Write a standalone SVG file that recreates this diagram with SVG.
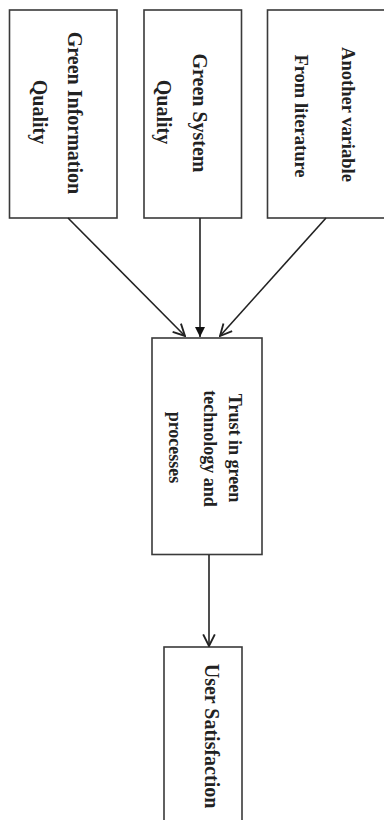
<svg xmlns="http://www.w3.org/2000/svg" width="384" height="820" viewBox="0 0 384 820">
<defs>
<style>
.box{fill:#fff;stroke:#3a3a3a;stroke-width:1.6}
.t{font-family:"Liberation Serif","Times New Roman",serif;font-weight:bold;fill:#222;text-anchor:middle}
.c{stroke:#222;stroke-width:1.6;fill:none}
</style>
<marker id="open" markerUnits="userSpaceOnUse" markerWidth="14" markerHeight="14" viewBox="0 0 12 12" refX="11" refY="6" orient="auto">
<path d="M1,1 L11,6 L1,11" fill="none" stroke="#222" stroke-width="1.6"/>
</marker>
<marker id="solid" markerUnits="userSpaceOnUse" markerWidth="12" markerHeight="12" viewBox="0 0 12 12" refX="11" refY="6" orient="auto">
<path d="M1,1 L11,6 L1,11 Z" fill="#111"/>
</marker>
</defs>
<rect width="384" height="820" fill="#fff"/>
<g id="n1">
<rect class="box" x="9.5" y="10" width="107.5" height="208"/>
<text class="t" font-size="20" transform="translate(68,113) rotate(90)">Green Information</text>
<text class="t" font-size="20" transform="translate(33,112) rotate(90)">Quality</text>
</g>
<g id="n2">
<rect class="box" x="144" y="10" width="97.5" height="208"/>
<text class="t" font-size="20" transform="translate(193,113) rotate(90)">Green System</text>
<text class="t" font-size="20" transform="translate(157,112) rotate(90)">Quality</text>
</g>
<g id="n3">
<rect class="box" x="267.5" y="10" width="130" height="208"/>
<text class="t" font-size="18.5" transform="translate(342,114.5) rotate(90)">Another variable</text>
<text class="t" font-size="18.5" transform="translate(295,116) rotate(90)">From literature</text>
</g>
<g id="n4">
<rect class="box" x="152" y="338" width="110" height="216.5"/>
<text class="t" font-size="18" transform="translate(229,448) rotate(90)">Trust in green</text>
<text class="t" font-size="18" transform="translate(204,448.5) rotate(90)">technology and</text>
<text class="t" font-size="18" transform="translate(169,447.5) rotate(90)">processes</text>
</g>
<g id="n5">
<rect class="box" x="164" y="647" width="78" height="175"/>
<text class="t" font-size="20" transform="translate(205,736) rotate(90)">User Satisfaction</text>
</g>
<g id="connectors">
<line class="c" x1="68" y1="218" x2="185" y2="336" marker-end="url(#open)"/>
<line class="c" x1="200" y1="218" x2="200" y2="337" marker-end="url(#solid)"/>
<line class="c" x1="326" y1="218" x2="220" y2="336" marker-end="url(#open)"/>
<line class="c" x1="209" y1="555" x2="209" y2="646" marker-end="url(#open)"/>
</g>
</svg>
